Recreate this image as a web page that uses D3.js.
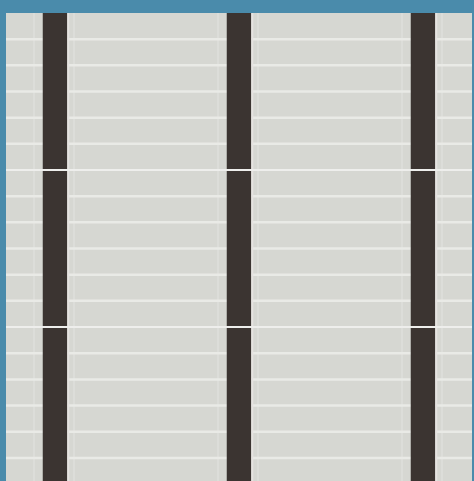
<!DOCTYPE html>
<html><head><meta charset="utf-8">
<script src="https://cdn.jsdelivr.net/npm/d3@7"></script>
<style>html,body{margin:0;padding:0;background:#4a8bab;}svg{display:block;}</style>
</head><body>
<svg id="chart" width="474" height="481"></svg>
<script>
const columns = ["A", "B", "C"];
const columnValues = [18, 18, 18];
const gridValues = [1,2,3,4,5,7,8,9,10,11,13,14,15,16,17];
const majorValues = [6, 12];

const W = 474, H = 481;
const panel = {x0: 6, x1: 472, y0: 13};
const svg = d3.select("#chart");
svg.append("rect").attr("width", W).attr("height", H).attr("fill", "#4a8bab");
svg.append("rect").attr("x", panel.x0).attr("y", panel.y0)
  .attr("width", panel.x1 - panel.x0).attr("height", H - panel.y0).attr("fill", "#d6d7d2");

const y = d3.scaleLinear().domain([0, 18]).range([panel.y0, panel.y0 + 26.17 * 18]);
const x = d3.scalePoint().domain(columns).range([55, 423]);
const bw = 24.5;

// faint vertical side lines
const g0 = svg.append("g");
columns.forEach(c => {
  [-21, 19].forEach(off => {
    g0.append("line").attr("x1", x(c) + off).attr("x2", x(c) + off)
      .attr("y1", panel.y0).attr("y2", H).attr("stroke", "#dcddd9").attr("stroke-width", 2);
  });
});

// minor grid lines
svg.append("g").selectAll("line").data(gridValues).join("line")
  .attr("x1", panel.x0).attr("x2", panel.x1)
  .attr("y1", d => y(d)).attr("y2", d => y(d))
  .attr("stroke", "#e9eae6").attr("stroke-width", 2.5);

// bars
svg.append("g").selectAll("rect").data(columns).join("rect")
  .attr("x", d => x(d) - bw / 2).attr("width", bw)
  .attr("y", (d, i) => y(0)).attr("height", (d, i) => y(columnValues[i]) - y(0))
  .attr("fill", "#3b3431");
// light edge right of bars
svg.append("g").selectAll("line").data(columns).join("line")
  .attr("x1", d => x(d) + bw / 2 + 1).attr("x2", d => x(d) + bw / 2 + 1)
  .attr("y1", panel.y0).attr("y2", H).attr("stroke", "#e6e3e1").attr("stroke-width", 2);

// major lines crossing bars
svg.append("g").selectAll("line").data(majorValues).join("line")
  .attr("x1", panel.x0).attr("x2", panel.x1)
  .attr("y1", d => y(d)).attr("y2", d => y(d))
  .attr("stroke", "#eeeeec").attr("stroke-width", 2);
</script>
</body></html>
